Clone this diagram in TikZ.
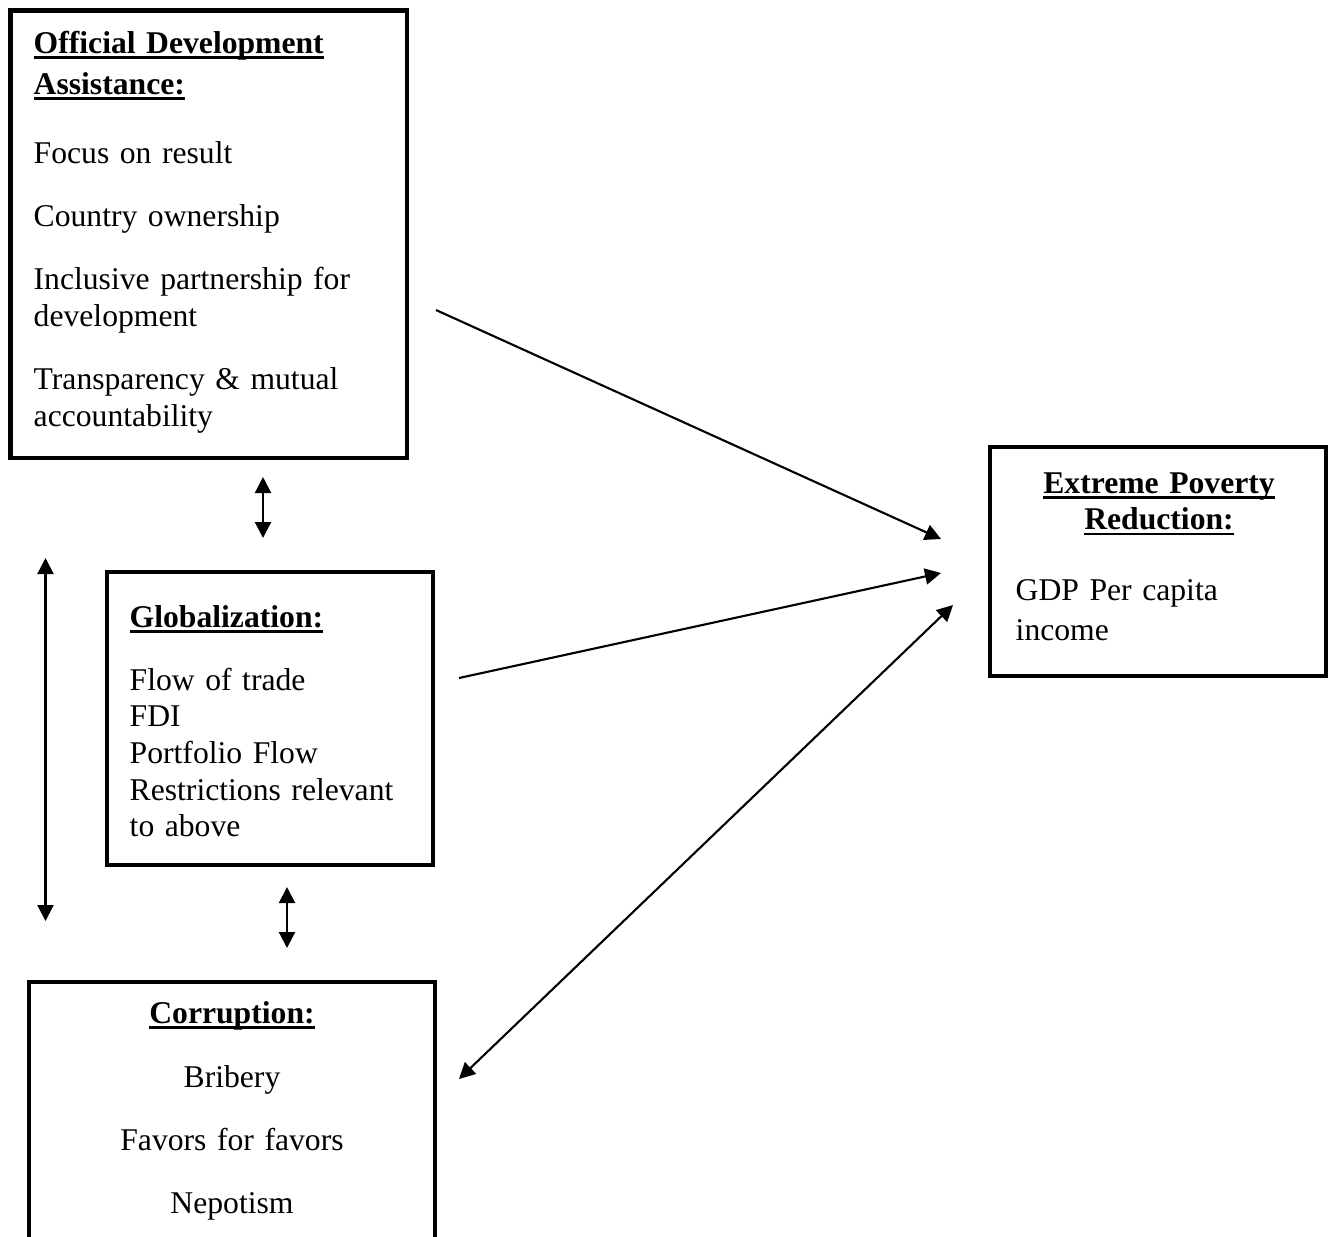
\documentclass[tikz,border=0pt]{standalone}
\usepackage{fontspec}
\setmainfont{Liberation Serif}
\usetikzlibrary{arrows.meta}
\newcommand{\hdr}[1]{\leavevmode\setbox0\hbox{\textbf{#1}}\rlap{\rule[-1.6pt]{\wd0}{0.7pt}}\box0}
\begin{document}
\begin{tikzpicture}[x=0.01cm, y=-0.01cm,
  box/.style={draw, line width=1.3pt, inner sep=0pt},
  txt/.style={font=\fontsize{9}{10.4}\selectfont, inner sep=0pt, align=left, text width=3.7cm},
  link/.style={line width=0.6pt, -{Triangle[length=0.16cm,width=0.16cm]}},
  both/.style={line width=0.6pt, {Triangle[length=0.16cm,width=0.16cm]}-{Triangle[length=0.16cm,width=0.16cm]}}]
\useasboundingbox (0,0) rectangle (1331,1236);
\clip (0,0) rectangle (1331,1236);
%
\node[box, minimum width=3.965cm, minimum height=4.475cm] (oda) at (208.75,234.25) {};
\node[box, minimum width=3.26cm, minimum height=2.93cm] (glob) at (270,718.5) {};
\node[box, minimum width=4.06cm, minimum height=3.18cm] (corr) at (232,1141) {};
\node[box, minimum width=3.36cm, minimum height=2.29cm] (epr) at (1158,561.5) {};
%
\node[txt, anchor=base west] (odatxt) at (33,53) {\hdr{Official Development}\\[1.3pt]
  \hdr{Assistance:}\\[9.2pt] Focus on result\\[7.6pt] Country ownership\\[7.6pt]
  Inclusive partnership for\\ development\\[7.6pt] Transparency \& mutual\\ accountability};
\node[txt, anchor=base west] (globtxt) at (129,627) {\hdr{Globalization:}\\[7.6pt]
  Flow of trade\\ FDI\\ Portfolio Flow\\ Restrictions relevant\\ to above};
\node[txt, anchor=base, align=center] (corrtxt) at (232,1023) {\hdr{Corruption:}\\[7.8pt]
  Bribery\\[7.6pt] Favors for favors\\[7.6pt] Nepotism};
\node[txt, anchor=base, align=center, text width=3.2cm] (eprhead) at (1159,493)
  {\hdr{Extreme Poverty}\\ \hdr{Reduction:}};
\node[txt, anchor=base west, text width=3cm] (eprtxt) at (1015,600) {GDP Per capita\\[1pt] income};
%
\coordinate (odaS) at (263,477);
\coordinate (globN) at (263,538);
\coordinate (leftT) at (45.5,558);
\coordinate (leftB) at (45.5,921);
\coordinate (globS) at (287,887);
\coordinate (corrN) at (287,948);
\coordinate (odaE) at (436,310);
\coordinate (eprA) at (941,539);
\coordinate (globE) at (459,678);
\coordinate (eprB) at (941,573);
\coordinate (corrE) at (459,1079);
\coordinate (eprC) at (953,605);
%
\draw[both] (odaS) -- (globN);
\draw[both] (leftT) -- (leftB);
\draw[both] (globS) -- (corrN);
\draw[link] (odaE) -- (eprA);
\draw[link] (globE) -- (eprB);
\draw[both] (corrE) -- (eprC);
\end{tikzpicture}
\end{document}
